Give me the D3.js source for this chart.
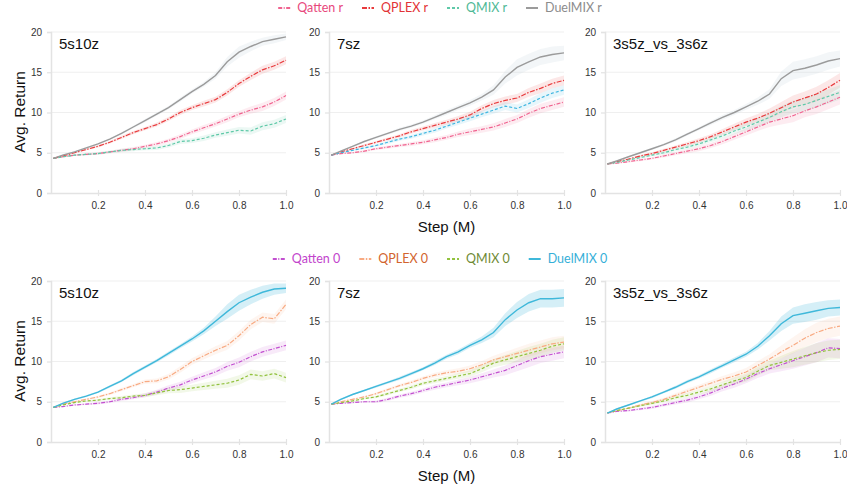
<!DOCTYPE html>
<html>
<head>
<meta charset="utf-8">
<script src="https://cdn.jsdelivr.net/npm/d3@7"></script>
<style>
  body { margin: 0; background: #fff; }
  svg { display: block; }
  .tick text { font-family: "Liberation Sans", Arial, sans-serif; }
</style>
</head>
<body>
<div id="chart"></div>
<script>
// training steps (M)
const steps = [0.01, 0.05, 0.10, 0.15, 0.20, 0.25, 0.30, 0.35, 0.40, 0.45, 0.50,
               0.55, 0.60, 0.65, 0.70, 0.75, 0.80, 0.85, 0.90, 0.95, 1.00];
const maps = ['5s10z', '7sz', '3s5z_vs_3s6z'];
const algosTop = ['Qatten r', 'QPLEX r', 'QMIX r', 'DuelMIX r'];
const algosBottom = ['Qatten 0', 'QPLEX 0', 'QMIX 0', 'DuelMIX 0'];
const yTicks = [0, 5, 10, 15, 20];
const xTicks = [0.2, 0.4, 0.6, 0.8, 1.0];

// top row, 5s10z
const t5s10zQatten = [4.3, 4.5, 4.7, 4.8, 4.9, 5.1, 5.3, 5.5, 5.8, 6.1, 6.5, 7.0, 7.6, 8.1, 8.6, 9.2, 9.8, 10.3, 10.7, 11.3, 12.1];
const t5s10zQplex  = [4.3, 4.6, 5.0, 5.4, 5.8, 6.3, 6.9, 7.5, 8.0, 8.5, 9.2, 10.0, 10.6, 11.1, 11.6, 12.5, 13.6, 14.5, 15.3, 15.8, 16.5];
const t5s10zQmix   = [4.3, 4.5, 4.7, 4.8, 4.9, 5.1, 5.3, 5.4, 5.5, 5.6, 5.9, 6.4, 6.5, 6.8, 7.2, 7.5, 7.8, 7.7, 8.3, 8.6, 9.2];
const t5s10zDuel   = [4.3, 4.7, 5.1, 5.6, 6.1, 6.7, 7.4, 8.2, 9.0, 9.8, 10.6, 11.6, 12.6, 13.5, 14.6, 16.3, 17.5, 18.2, 18.8, 19.1, 19.4];
// top row, 7sz
const t7szQatten = [4.7, 4.9, 5.0, 5.2, 5.5, 5.7, 5.9, 6.1, 6.3, 6.6, 6.9, 7.3, 7.6, 7.9, 8.2, 8.7, 9.2, 9.9, 10.5, 10.9, 11.3];
const t7szQplex  = [4.7, 5.1, 5.5, 5.9, 6.3, 6.7, 7.1, 7.6, 8.0, 8.4, 8.8, 9.2, 9.7, 10.5, 11.1, 11.5, 11.8, 12.5, 13.0, 13.6, 14.0];
const t7szQmix   = [4.7, 5.0, 5.3, 5.6, 5.9, 6.3, 6.7, 7.0, 7.4, 7.8, 8.3, 8.8, 9.3, 9.8, 10.3, 10.8, 10.5, 11.1, 11.8, 12.4, 12.8];
const t7szDuel   = [4.7, 5.2, 5.8, 6.4, 6.9, 7.4, 7.9, 8.3, 8.8, 9.4, 10.0, 10.6, 11.2, 11.9, 12.8, 14.4, 15.6, 16.3, 16.9, 17.2, 17.4];
// top row, 3s5z_vs_3s6z
const t3s5zQatten = [3.6, 3.7, 3.9, 4.1, 4.3, 4.6, 4.9, 5.2, 5.5, 5.9, 6.4, 7.0, 7.6, 8.2, 8.8, 9.2, 9.6, 10.2, 10.7, 11.3, 11.9];
const t3s5zQplex  = [3.6, 3.9, 4.2, 4.6, 4.9, 5.3, 5.7, 6.1, 6.5, 7.0, 7.6, 8.2, 8.8, 9.3, 9.9, 10.6, 11.3, 11.8, 12.3, 13.1, 14.0];
const t3s5zQmix   = [3.6, 3.8, 4.1, 4.4, 4.7, 5.0, 5.4, 5.7, 6.1, 6.6, 7.1, 7.7, 8.2, 8.8, 9.4, 10.1, 10.7, 11.0, 11.5, 12.0, 12.5];
const t3s5zDuel   = [3.6, 4.0, 4.5, 5.0, 5.5, 6.0, 6.6, 7.3, 8.0, 8.7, 9.4, 10.0, 10.7, 11.4, 12.3, 14.2, 15.2, 15.5, 15.9, 16.4, 16.7];

// bottom row, 5s10z
const b5s10zQatten = [4.3, 4.4, 4.6, 4.7, 4.8, 5.0, 5.3, 5.5, 5.8, 6.2, 6.7, 7.1, 7.7, 8.2, 8.7, 9.4, 9.9, 10.6, 11.2, 11.6, 12.0];
const b5s10zQplex  = [4.3, 4.7, 5.0, 5.3, 5.6, 6.0, 6.5, 7.0, 7.5, 7.6, 8.1, 9.0, 10.0, 10.7, 11.4, 12.0, 13.2, 14.6, 15.5, 15.3, 17.1];
const b5s10zQmix   = [4.3, 4.6, 4.9, 5.1, 5.2, 5.4, 5.5, 5.7, 5.8, 6.1, 6.4, 6.5, 6.7, 6.9, 7.1, 7.3, 7.7, 8.4, 8.2, 8.5, 8.0];
const b5s10zDuel   = [4.3, 4.8, 5.3, 5.7, 6.2, 6.9, 7.6, 8.5, 9.3, 10.1, 11.0, 11.9, 12.8, 13.8, 15.0, 16.2, 17.3, 18.0, 18.6, 19.0, 19.1];
// bottom row, 7sz
const b7szQatten = [4.7, 4.8, 4.9, 5.0, 5.0, 5.3, 5.7, 6.0, 6.4, 6.8, 7.1, 7.4, 7.7, 8.1, 8.5, 8.9, 9.5, 10.1, 10.6, 10.9, 11.2];
const b7szQplex  = [4.7, 5.0, 5.3, 5.6, 6.0, 6.5, 7.0, 7.4, 7.9, 8.3, 8.6, 8.8, 9.1, 9.6, 10.2, 10.6, 11.0, 11.4, 11.8, 12.2, 12.4];
const b7szQmix   = [4.7, 4.9, 5.1, 5.4, 5.6, 6.0, 6.4, 6.8, 7.3, 7.6, 7.9, 8.2, 8.5, 9.1, 9.8, 10.2, 10.6, 11.0, 11.4, 11.9, 12.2];
const b7szDuel   = [4.7, 5.3, 5.9, 6.4, 6.9, 7.4, 7.9, 8.5, 9.1, 9.8, 10.6, 11.2, 12.0, 12.7, 13.6, 15.2, 16.4, 17.3, 17.8, 17.8, 17.9];
// bottom row, 3s5z_vs_3s6z
const b3s5zQatten = [3.6, 3.8, 3.9, 4.1, 4.3, 4.6, 4.9, 5.2, 5.6, 6.1, 6.7, 7.2, 7.8, 8.5, 9.1, 9.6, 10.1, 10.6, 11.1, 11.7, 11.6];
const b3s5zQplex  = [3.6, 3.9, 4.2, 4.6, 4.9, 5.3, 5.8, 6.3, 6.8, 7.3, 7.8, 8.2, 8.7, 9.5, 10.3, 11.2, 12.0, 12.9, 13.6, 14.1, 14.4];
const b3s5zQmix   = [3.6, 3.9, 4.2, 4.5, 4.8, 5.1, 5.5, 5.8, 6.2, 6.6, 7.1, 7.6, 8.0, 8.8, 9.5, 9.9, 10.3, 10.7, 11.1, 11.4, 11.5];
const b3s5zDuel   = [3.6, 4.1, 4.6, 5.1, 5.6, 6.2, 6.8, 7.5, 8.1, 8.8, 9.5, 10.2, 10.9, 11.9, 13.2, 14.7, 15.7, 16.0, 16.3, 16.6, 16.7];

// shaded spread (half width), DuelMIX and the other three methods
const t5s10zDuelBand  = [0, 0.1, 0.1, 0.1, 0.1, 0.1, 0.15, 0.15, 0.2, 0.2, 0.2, 0.25, 0.25, 0.3, 0.4, 0.6, 0.7, 0.6, 0.5, 0.5, 0.4];
const t5s10zOtherBand = [0, 0.05, 0.1, 0.1, 0.15, 0.15, 0.2, 0.2, 0.2, 0.25, 0.25, 0.3, 0.3, 0.35, 0.35, 0.4, 0.4, 0.45, 0.5, 0.5, 0.5];
const t7szDuelBand    = [0, 0.1, 0.1, 0.1, 0.15, 0.15, 0.2, 0.2, 0.2, 0.25, 0.3, 0.3, 0.35, 0.4, 0.6, 0.8, 1.0, 1.0, 1.0, 1.0, 0.9];
const t7szOtherBand   = [0, 0.05, 0.1, 0.15, 0.15, 0.2, 0.2, 0.25, 0.25, 0.3, 0.3, 0.35, 0.4, 0.4, 0.45, 0.5, 0.5, 0.55, 0.6, 0.6, 0.6];
const t3s5zDuelBand   = [0, 0.1, 0.1, 0.1, 0.15, 0.15, 0.2, 0.2, 0.2, 0.25, 0.3, 0.3, 0.35, 0.45, 0.6, 0.9, 1.1, 1.1, 1.1, 1.1, 1.0];
const t3s5zOtherBand  = [0, 0.05, 0.1, 0.15, 0.15, 0.2, 0.2, 0.25, 0.3, 0.3, 0.35, 0.4, 0.45, 0.5, 0.6, 0.7, 0.8, 0.8, 0.9, 0.9, 0.9];
const b5s10zDuelBand  = [0, 0.1, 0.1, 0.1, 0.1, 0.15, 0.15, 0.2, 0.2, 0.2, 0.25, 0.25, 0.3, 0.4, 0.6, 0.9, 1.0, 0.9, 0.8, 0.7, 0.6];
const b5s10zOtherBand = [0, 0.05, 0.1, 0.1, 0.15, 0.15, 0.2, 0.2, 0.25, 0.3, 0.35, 0.4, 0.4, 0.45, 0.5, 0.55, 0.6, 0.6, 0.6, 0.6, 0.6];
const b7szDuelBand    = [0, 0.1, 0.1, 0.1, 0.15, 0.15, 0.2, 0.2, 0.2, 0.25, 0.25, 0.3, 0.3, 0.4, 0.6, 0.8, 1.0, 1.1, 1.1, 1.1, 1.1];
const b7szOtherBand   = [0, 0.05, 0.1, 0.1, 0.15, 0.2, 0.2, 0.25, 0.25, 0.3, 0.3, 0.35, 0.4, 0.45, 0.5, 0.6, 0.7, 0.8, 0.8, 0.8, 0.8];
const b3s5zDuelBand   = [0, 0.1, 0.1, 0.1, 0.15, 0.15, 0.2, 0.2, 0.2, 0.25, 0.25, 0.3, 0.3, 0.4, 0.6, 0.9, 1.0, 1.1, 1.1, 1.0, 1.0];
const b3s5zOtherBand  = [0, 0.05, 0.1, 0.15, 0.2, 0.2, 0.25, 0.3, 0.3, 0.35, 0.4, 0.45, 0.5, 0.55, 0.6, 0.8, 1.0, 1.1, 1.2, 1.2, 1.2];

// styles
const lineColTop  = ['#f0628f', '#e83a3c', '#5fc9a8', '#9b9b9b'];
const textColTop  = ['#e8487c', '#e23236', '#4fb996', '#8c8c8c'];
const lineColBot  = ['#c24fd0', '#f8aa82', '#92c23e', '#3fb8da'];
const textColBot  = ['#c244cc', '#d2642e', '#6f8a34', '#36afd8'];
const dashes = ['4 1.5 1 1.5', '5 1.5 1.5 1.5', '3 2', null];

const rows = [
  { algos: algosTop, lineCol: lineColTop, textCol: textColTop,
    series: [[t5s10zQatten, t5s10zQplex, t5s10zQmix, t5s10zDuel],
             [t7szQatten, t7szQplex, t7szQmix, t7szDuel],
             [t3s5zQatten, t3s5zQplex, t3s5zQmix, t3s5zDuel]],
    bands: [[t5s10zOtherBand, t5s10zDuelBand], [t7szOtherBand, t7szDuelBand], [t3s5zOtherBand, t3s5zDuelBand]],
    // in the 7sz panel the QMIX r curve is drawn in light blue
    override: {1: {2: '#3fb6e0'}} },
  { algos: algosBottom, lineCol: lineColBot, textCol: textColBot,
    series: [[b5s10zQatten, b5s10zQplex, b5s10zQmix, b5s10zDuel],
             [b7szQatten, b7szQplex, b7szQmix, b7szDuel],
             [b3s5zQatten, b3s5zQplex, b3s5zQmix, b3s5zDuel]],
    bands: [[b5s10zOtherBand, b5s10zDuelBand], [b7szOtherBand, b7szDuelBand], [b3s5zOtherBand, b3s5zDuelBand]],
    override: {} }
];

const W = 847, H = 490;
const colLeft = [51, 329, 605];
const plotW = 235, plotH = 161;
const rowTop = [32, 281];
const legendY = [12, 263];

const svg = d3.select('#chart').append('svg')
  .attr('width', W).attr('height', H);

const sx = d3.scaleLinear().domain([0, 1]).range([0, plotW]);
const sy = d3.scaleLinear().domain([0, 20]).range([plotH, 0]);

rows.forEach((row, ri) => {
  // legend
  const leg = svg.append('g').attr('class', 'legend');
  let items = row.algos.map((name, i) => {
    let g = leg.append('g');
    g.append('line')
      .attr('x1', 0).attr('x2', 12).attr('y1', -4).attr('y2', -4)
      .attr('stroke', row.lineCol[i]).attr('stroke-width', 2)
      .attr('stroke-dasharray', dashes[i]);
    let t = g.append('text')
      .attr('x', 19).attr('y', 0)
      .style('font-family', 'Lato, "Noto Sans", sans-serif')
      .style('font-size', '12.5px')
      .attr('fill', row.textCol[i])
      .text(name);
    return {g: g, w: 19 + t.node().getComputedTextLength()};
  });
  let total = d3.sum(items, d => d.w) + 19 * (items.length - 1);
  let x0 = 440 - total / 2;
  items.forEach(it => {
    it.g.attr('transform', 'translate(' + x0 + ',' + legendY[ri] + ')');
    x0 += it.w + 19;
  });

  maps.forEach((map, ci) => {
    const g = svg.append('g')
      .attr('transform', 'translate(' + colLeft[ci] + ',' + rowTop[ri] + ')');

    // gridlines
    g.selectAll('.grid')
      .data(yTicks.slice(1))
      .enter()
      .append('line')
      .attr('class', 'grid')
      .attr('x1', 0).attr('x2', plotW)
      .attr('y1', d => sy(d)).attr('y2', d => sy(d))
      .attr('stroke', '#efefef').attr('stroke-width', 1);

    // axes
    const yAxis = g.append('g')
      .call(d3.axisLeft(sy).tickValues(yTicks).tickSize(4).tickPadding(5));
    const xAxis = g.append('g')
      .attr('transform', 'translate(0,' + plotH + ')')
      .call(d3.axisBottom(sx).tickValues(xTicks).tickFormat(d3.format('.1f'))
        .tickSizeInner(3).tickSizeOuter(0).tickPadding(6));
    [yAxis, xAxis].forEach(a => {
      a.select('.domain').attr('stroke', '#e3e3e3').attr('stroke-width', 1.5);
      a.selectAll('.tick line').attr('stroke', '#e3e3e3').attr('stroke-width', 1.2);
      a.selectAll('.tick text').attr('fill', '#333').style('font-size', '10px');
    });
    xAxis.selectAll('.tick line').attr('y1', -3);

    // bands
    const series = row.series[ci];
    series.forEach((vals, si) => {
      const band = si === 3 ? row.bands[ci][1] : row.bands[ci][0];
      const col = (row.override[ci] && row.override[ci][si]) || row.lineCol[si];
      const area = d3.area()
        .x((d, i) => sx(steps[i]))
        .y0((d, i) => sy(d - band[i]))
        .y1((d, i) => sy(d + band[i]));
      g.append('path')
        .datum(vals)
        .attr('d', area)
        .attr('fill', si === 3 && ri === 0 ? '#c9d6e0' : col)
        .attr('opacity', si === 3 ? 0.22 : 0.12);
    });

    // lines
    series.forEach((vals, si) => {
      const col = (row.override[ci] && row.override[ci][si]) || row.lineCol[si];
      const line = d3.line()
        .x((d, i) => sx(steps[i]))
        .y(d => sy(d));
      g.append('path')
        .datum(vals)
        .attr('d', line)
        .attr('fill', 'none')
        .attr('stroke', col)
        .attr('stroke-width', si === 3 ? 1.4 : 1.2)
        .attr('stroke-dasharray', dashes[si]);
    });

    // panel title
    g.append('text')
      .attr('x', 8).attr('y', 17)
      .style('font-family', '"Liberation Sans", Arial, sans-serif')
      .style('font-size', '15px')
      .attr('fill', '#111')
      .text(map);
  });

  // axis titles
  svg.append('text')
    .attr('transform', 'translate(25,' + (rowTop[ri] + 80) + ') rotate(-90)')
    .attr('text-anchor', 'middle')
    .style('font-family', '"Liberation Sans", Arial, sans-serif')
    .style('font-size', '15.5px')
    .attr('fill', '#111')
    .text('Avg. Return');

  svg.append('text')
    .attr('x', colLeft[1] + plotW / 2)
    .attr('y', rowTop[ri] + plotH + 39)
    .attr('text-anchor', 'middle')
    .style('font-family', '"Liberation Sans", Arial, sans-serif')
    .style('font-size', '15px')
    .attr('fill', '#111')
    .text('Step (M)');
});
</script>
</body>
</html>
